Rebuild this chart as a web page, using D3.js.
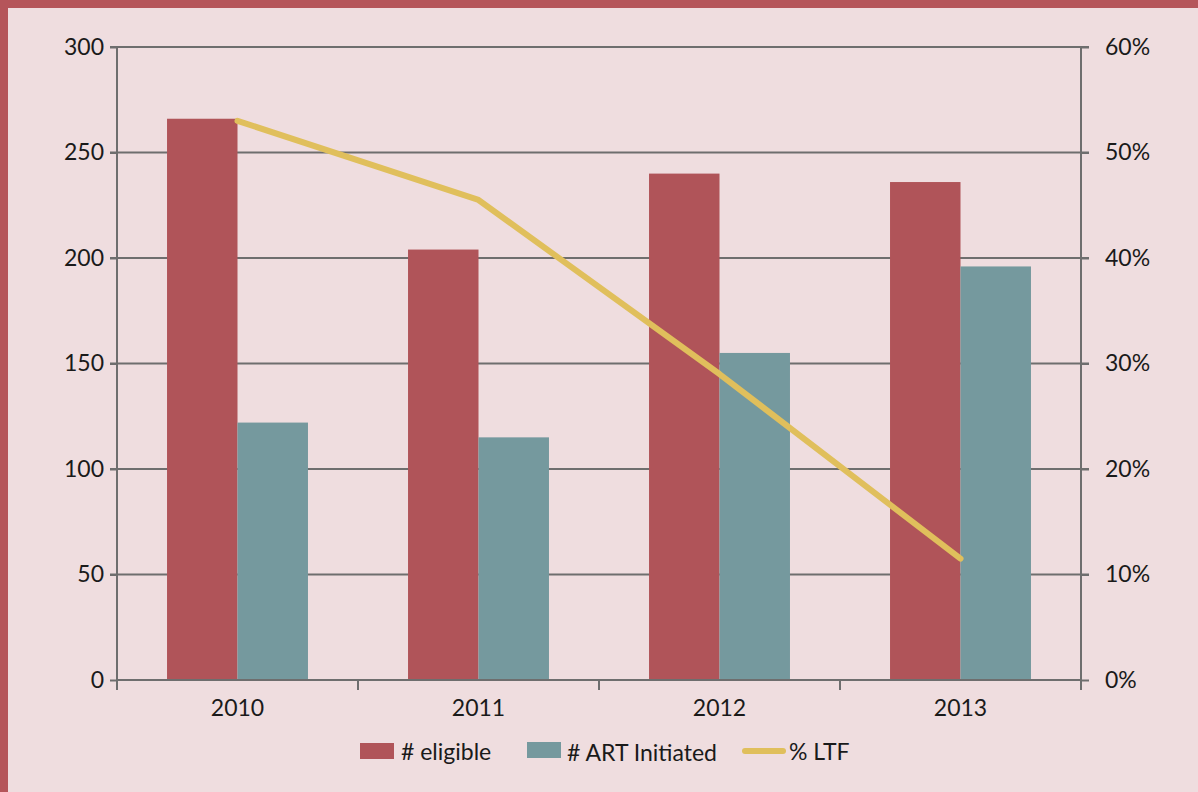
<!DOCTYPE html>
<html>
<head>
<meta charset="utf-8">
<script src="https://d3js.org/d3.v7.min.js"></script>
<style>
  body { margin: 0; background: #efdddf; }
  svg { display: block; font-family: Lato, "Open Sans", sans-serif; }
</style>
</head>
<body>
<script>
var w = 1198;
var h = 792;

var years = ["2010", "2011", "2012", "2013"];
var eligible = [266, 204, 240, 236];
var artInitiated = [122, 115, 155, 196];
var ltf = [0.53, 0.455, 0.29, 0.115];
var leftTicks = [0, 50, 100, 150, 200, 250, 300];
var rightTicks = [0, 0.1, 0.2, 0.3, 0.4, 0.5, 0.6];

var red = "#b05459";
var teal = "#75999e";
var gold = "#e0bf5c";
var axisCol = "#6e6e6e";

var m = {left: 117, right: 1081, top: 47, bottom: 680};

var svg = d3.select("body").append("svg")
  .attr("width", w)
  .attr("height", h);

svg.append("rect").attr("width", w).attr("height", h).attr("fill", "#efdddf");
// frame on top and left
svg.append("rect").attr("x", 0).attr("y", 0).attr("width", w).attr("height", 8).attr("fill", "#b5555a");
svg.append("rect").attr("x", 0).attr("y", 0).attr("width", 8).attr("height", h).attr("fill", "#b5555a");

var x = d3.scaleBand().domain(years).range([m.left, m.right]);
var xs = d3.scaleBand().domain(["e", "a"]).range([0, x.bandwidth()]).paddingInner(0).paddingOuter(0.71);
var y = d3.scaleLinear().domain([0, 300]).range([m.bottom, m.top]);
var y2 = d3.scaleLinear().domain([0, 0.6]).range([m.bottom, m.top]);

// gridlines
svg.append("g").selectAll("line")
  .data(leftTicks.slice(1))
  .enter().append("line")
  .attr("x1", m.left - 7).attr("x2", m.right + 8)
  .attr("y1", function(d) { return y(d); }).attr("y2", function(d) { return y(d); })
  .attr("stroke", axisCol).attr("stroke-width", 2);

// bars
var bars = svg.append("g");
years.forEach(function(yr, i) {
  bars.append("rect")
    .attr("x", x(yr) + xs("e")).attr("width", xs.bandwidth())
    .attr("y", y(eligible[i])).attr("height", y(0) - y(eligible[i]))
    .attr("fill", red);
  bars.append("rect")
    .attr("x", x(yr) + xs("a")).attr("width", xs.bandwidth())
    .attr("y", y(artInitiated[i])).attr("height", y(0) - y(artInitiated[i]))
    .attr("fill", teal);
});

// axes
var leftAxis = svg.append("g")
  .attr("transform", "translate(" + m.left + ",0)")
  .call(d3.axisLeft(y).tickValues(leftTicks).tickSize(7).tickPadding(6));
var rightAxis = svg.append("g")
  .attr("transform", "translate(" + m.right + ",0)")
  .call(d3.axisRight(y2).tickValues(rightTicks).tickSize(8).tickPadding(16).tickFormat(d3.format(".0%")));
var bottomAxis = svg.append("g")
  .attr("transform", "translate(0," + m.bottom + ")")
  .call(d3.axisBottom(x).tickSize(0).tickPadding(20));

// boundary ticks on x axis
svg.append("g").selectAll("line")
  .data(years.map(function(d) { return x(d); }).concat([m.right]))
  .enter().append("line")
  .attr("x1", function(d) { return d; }).attr("x2", function(d) { return d; })
  .attr("y1", m.bottom).attr("y2", m.bottom + 10)
  .attr("stroke", axisCol).attr("stroke-width", 2);

[leftAxis, rightAxis, bottomAxis].forEach(function(a) {
  a.select(".domain").attr("stroke", axisCol).attr("stroke-width", 2);
  a.selectAll(".tick line").attr("stroke", axisCol).attr("stroke-width", 2);
  a.selectAll("text").attr("fill", "#1a1a1a").attr("font-size", 23).attr("font-family", "Lato, sans-serif");
});
leftAxis.select(".domain").attr("d", "M0," + m.top + "V" + (m.bottom + 4));
rightAxis.select(".domain").attr("d", "M0," + m.top + "V" + (m.bottom + 6));
bottomAxis.select(".domain").attr("d", "M" + m.left + ",0H" + m.right);

// LTF line
var line = d3.line()
  .x(function(d, i) { return x(years[i]) + x.bandwidth() / 2; })
  .y(function(d) { return y2(d); });
svg.append("path")
  .datum(ltf)
  .attr("d", line)
  .attr("fill", "none")
  .attr("stroke", gold)
  .attr("stroke-width", 6)
  .attr("stroke-linecap", "round")
  .attr("stroke-linejoin", "round");

// legend
var legend = svg.append("g").attr("font-size", 23).attr("fill", "#1a1a1a");
legend.append("rect").attr("x", 360).attr("y", 743).attr("width", 34).attr("height", 16).attr("fill", red);
legend.append("text").attr("x", 401).attr("y", 760).text("# eligible");
legend.append("rect").attr("x", 527).attr("y", 742).attr("width", 34).attr("height", 16).attr("fill", teal);
legend.append("text").attr("x", 567).attr("y", 761).text("# ART Initiated");
legend.append("line").attr("x1", 745).attr("x2", 783).attr("y1", 751).attr("y2", 751)
  .attr("stroke", gold).attr("stroke-width", 6).attr("stroke-linecap", "round");
legend.append("text").attr("x", 789).attr("y", 760).text("% LTF");
</script>
</body>
</html>
